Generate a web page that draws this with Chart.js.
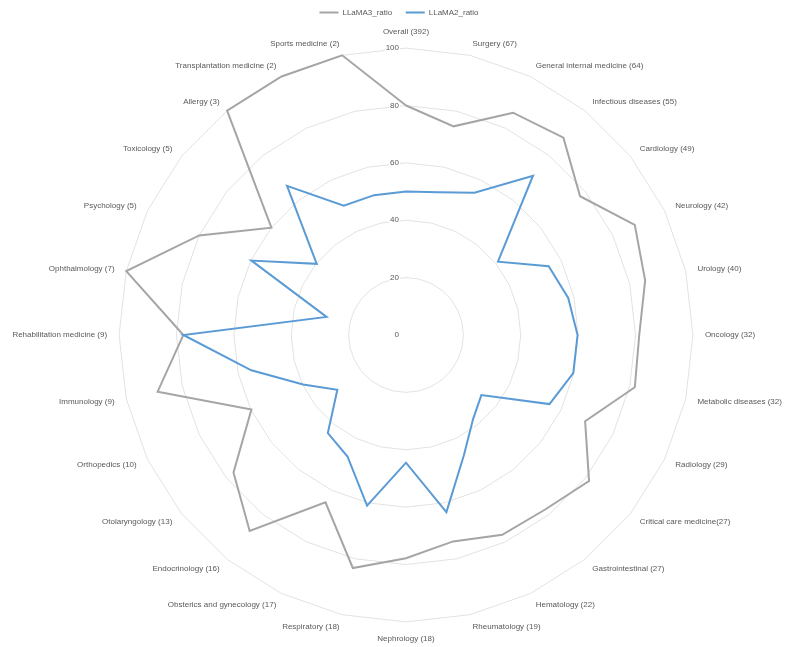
<!DOCTYPE html>
<html>
<head>
	<title>LLaMA ratio by specialty</title>
	<script src="https://cdn.jsdelivr.net/npm/chart.js"></script>
	<style>
		body { margin: 0; background: #fff; }
		#wrap { width: 800px; height: 647px; }
	</style>
</head>
<body>
	<div id="wrap"><canvas id="myChart"></canvas></div>

	<script>
		const specialties = [
			'Overall (392)', 'Surgery (67)', 'General internal medicine (64)', 'Infectious diseases (55)',
			'Cardiology (49)', 'Neurology (42)', 'Urology (40)', 'Oncology (32)', 'Metabolic diseases (32)',
			'Radiology (29)', 'Critical care medicine(27)', 'Gastrointestinal (27)', 'Hematology (22)',
			'Rheumatology (19)', 'Nephrology (18)', 'Respiratory (18)', 'Obsterics and gynecology (17)',
			'Endocrinology (16)', 'Otolaryngology (13)', 'Orthopedics (10)', 'Immunology (9)',
			'Rehabilitation medicine (9)', 'Ophthalmology (7)', 'Psychology (5)', 'Toxicology (5)',
			'Allergy (3)', 'Transplantation medicine (2)', 'Sports medicine (2)'
		];
		const llama3Ratio = [80, 74.6, 86, 88, 77.6, 88.5, 85.5, 81.3, 81.8, 69.3, 81.6, 77.8, 77.3, 73.8,
			77.8, 83.3, 64.7, 87.4, 76.9, 59.8, 88.8, 77.6, 100, 80, 60, 100, 100, 100];
		const llama2Ratio = [50, 51, 55, 71, 41, 55.2, 58, 59.8, 59.8, 55.5, 33.6, 37.5, 46.5, 63.3,
			44.5, 61, 47, 43.7, 30.6, 39.8, 55.3, 77.6, 28.4, 59.8, 39.8, 66.5, 50, 50];
		const tickValues = [0, 20, 40, 60, 80, 100];

		const labelFont = '"Liberation Sans", Arial, sans-serif';

		// value labels sit just left of the vertical axis, the way Excel puts them
		const tickLabels = {
			id: 'tickLabels',
			beforeDatasetsDraw(chart) {
				const scale = chart.scales.r;
				const ctx = chart.ctx;
				ctx.save();
				ctx.font = '8px ' + labelFont;
				ctx.textAlign = 'right';
				ctx.textBaseline = 'middle';
				tickValues.forEach(v => {
					const y = scale.yCenter - scale.getDistanceFromCenterForValue(v);
					const x = scale.xCenter - 7;
					const w = ctx.measureText(String(v)).width;
					ctx.fillStyle = '#fff';
					ctx.fillRect(x - w - 1, y - 5, w + 2, 10);
					ctx.fillStyle = '#595959';
					ctx.fillText(String(v), x, y);
				});
				ctx.restore();
			}
		};

		// Excel centres the side labels on their spoke; Chart.js hangs them above/below it
		function centreLabels(scale) {
			const items = scale._pointLabelItems;
			if (!items) return;
			items.forEach((item, i) => {
				const deg = Math.round(scale.getIndexAngle(i) * 180 / Math.PI) % 360;
				if (deg === 0 || deg === 90 || deg === 180 || deg === 270) return;
				const h = item.bottom - item.top;
				const shift = (deg < 90 || deg > 270) ? h / 2 : -h / 2;
				item.y += shift;
				item.top += shift;
				item.bottom += shift;
			});
		}

		const ctx = document.getElementById('myChart').getContext('2d');
		const chart = new Chart(ctx, {
			type: 'radar',
			data: {
				labels: specialties,
				datasets: [{
					label: 'LLaMA3_ratio',
					data: llama3Ratio,
					borderColor: '#A5A5A5',
					backgroundColor: '#A5A5A5',
					borderWidth: 2,
					pointRadius: 0,
					fill: false,
					order: 2
				}, {
					label: 'LLaMA2_ratio',
					data: llama2Ratio,
					borderColor: '#5B9BD5',
					backgroundColor: '#5B9BD5',
					borderWidth: 2,
					pointRadius: 0,
					fill: false,
					order: 1
				}]
			},
			options: {
				responsive: true,
				maintainAspectRatio: false,
				animation: false,
				layout: { padding: { left: 0, right: 2, top: -5, bottom: 3 } },
				plugins: {
					legend: {
						position: 'top',
						labels: {
							usePointStyle: true,
							pointStyle: 'line',
							pointStyleWidth: 19,
							padding: 13.5,
							color: '#595959',
							font: { size: 8, family: labelFont },
							sort: (a, b) => a.datasetIndex - b.datasetIndex
						}
					},
					tooltip: { enabled: false }
				},
				scales: {
					r: {
						min: 0,
						max: 100,
						ticks: { stepSize: 20, display: false },
						grid: { color: '#E2E2E2', lineWidth: 1 },
						angleLines: { display: false },
						pointLabels: {
							color: '#595959',
							padding: 12,
							font: { size: 8, family: labelFont }
						},
						afterFit: centreLabels
					}
				}
			},
			plugins: [tickLabels]
		});
	</script>
</body>
</html>
